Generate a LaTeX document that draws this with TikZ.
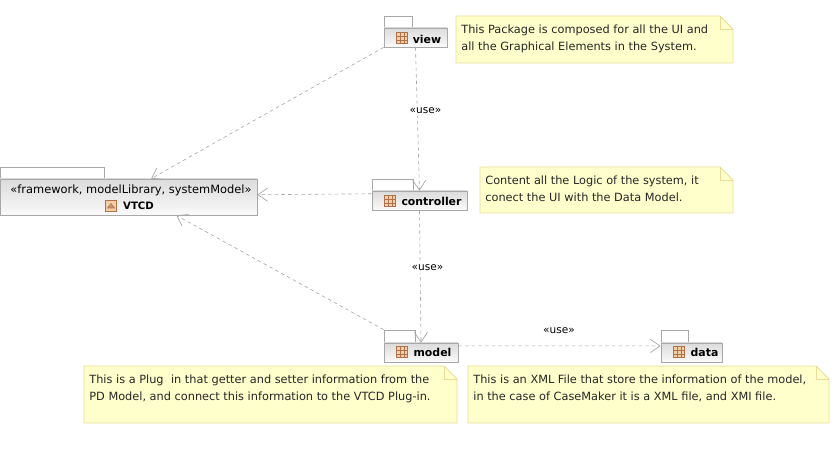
\documentclass[tikz,border=0pt]{standalone}
\usepackage{fontspec}
\setmainfont{DejaVu Sans}
\usetikzlibrary{arrows.meta, calc, fit, shadows}

\definecolor{notefill}{HTML}{FFFFCC}
\definecolor{noteline}{HTML}{E8DC96}
\definecolor{pkgline}{HTML}{A8A8A8}
\definecolor{iconfill}{HTML}{F3CFA8}
\definecolor{iconline}{HTML}{B07048}

\tikzset{
  pkgtab/.style={draw=pkgline, fill=white, inner sep=0pt},
  pkgbody/.style={draw=pkgline, top color=black!14, bottom color=black!2, inner sep=0pt,
    drop shadow={shadow xshift=0.6pt, shadow yshift=-0.6pt, fill=black!30, opacity=1}},
  pkgname/.style={font=\fontsize{6.2}{7}\selectfont\bfseries, inner sep=0pt},
  pkgicon/.style={minimum size=6.2pt, inner sep=0pt, fill=iconfill, draw=iconline, line width=0.3pt},
  usedep/.style={dash pattern=on 2pt off 1.8pt, draw=black!35, line width=0.35pt,
    -{Straight Barb[length=5.5pt, width=7.5pt, line width=0.4pt]}},
  uselabel/.style={font=\fontsize{6}{7}\selectfont, inner sep=0pt, fill=white, inner ysep=1pt},
  notebody/.style={draw=noteline, fill=notefill, line width=0.5pt},
  notetext/.style={font=\fontsize{6.45}{9.5}\selectfont, inner sep=0pt, anchor=north west, align=left, text=black!85}
}

\begin{document}
\begin{tikzpicture}[x=0.02cm, y=-0.02cm]
  \useasboundingbox (0,0) rectangle (835,455);

  % packages
  \foreach \nm/\xl/\xt/\xr/\yt/\ym/\yb in {view/384/412/447/16/28/47, controller/372/413/467/179/191/210,
      model/384/415/458/330/343/362, data/661/688/722/330/343/362, vtcd/0/104.5/257/167/179/215} {
    \node[pkgtab, fit={(\xl,\yt) (\xt,\ym)}] (\nm tab) {};
    \node[pkgbody, fit={(\xl,\ym) (\xr,\yb)}] (\nm) {};
  }

  % icons and names
  \foreach \nm/\xi/\yi/\xn/\yn/\txt in {view/402/38/427/39/view, controller/390/201/431.5/201.5/controller,
      model/402/352/432.5/352.5/model, data/679/352/704.5/352.5/data} {
    \node[pkgname, anchor=center] (\nm name) at (\xn,\yn) {\txt};
    \node[pkgicon, path picture={
        \foreach \f in {0.36,0.68} {
          \draw[iconline, line width=0.3pt] ($(path picture bounding box.north west)!\f!(path picture bounding box.north east)$) -- ++(0,-7pt);
          \draw[iconline, line width=0.3pt] ($(path picture bounding box.north west)!\f!(path picture bounding box.south west)$) -- ++(7pt,0);
        }}] (\nm icon) at (\xi,\yi) {};
  }
  \node[font=\fontsize{6.5}{7}\selectfont, inner sep=0pt] (vtcdstereo) at (131,190.5) {«framework, modelLibrary, systemModel»};
  \node[pkgicon] (vtcdicon) at (111,206) {};
  \draw[iconline, fill=iconline!60!iconfill, line width=0.3pt] (107.5,208) -- (111,203.5) -- (114.5,208) -- cycle;
  \node[pkgname, font=\fontsize{5.8}{7}\selectfont\bfseries] (vtcdname) at (138.5,205.5) {VTCD};

  % dependencies
  \draw[usedep] (view.south west) -- (vtcd.39);
  \draw[usedep] (controller.172) -- (vtcd.1.3);
  \draw[usedep] (modeltab.north west) -- (vtcd.-21);
  \draw[usedep] (view.south) -- (controller.north);
  \draw[usedep] (controller.south) -- (model.north);
  \draw[usedep] (model.10) -- (data.168);
  \node[uselabel] (uselabela) at (425.5,111) {«use»};
  \node[uselabel] (uselabelb) at (427.5,268) {«use»};
  \node[uselabel] (uselabelc) at (559,331) {«use»};

  % notes
  \foreach \nm/\xl/\xr/\yt/\yb/\txt in {
      viewnote/456/733/16/63/{This Package is composed for all the UI and\\all the Graphical Elements in the System.},
      ctrlnote/480/733/167/213/{Content all the Logic of the system, it\\conect the UI with the Data Model.},
      modelnote/84/457/366/423/{This is a Plug\,\, in that getter and setter information from the\\PD Model, and connect this information to the VTCD Plug-in.},
      datanote/468/829/366/423/{This is an XML File that store the information of the model,\\in the case of CaseMaker it is a XML file, and XMI file.}} {
    \draw[notebody] (\xl,\yt) -- ({\xr-13},\yt) -- (\xr,{\yt+13}) -- (\xr,\yb) -- (\xl,\yb) -- cycle;
    \draw[noteline, line width=0.5pt] ({\xr-13},\yt) -- ({\xr-13},{\yt+13}) -- (\xr,{\yt+13});
    \node[notetext] (\nm) at ({\xl+5},{\yt+8.5}) {\txt};
  }
\end{tikzpicture}
\end{document}
